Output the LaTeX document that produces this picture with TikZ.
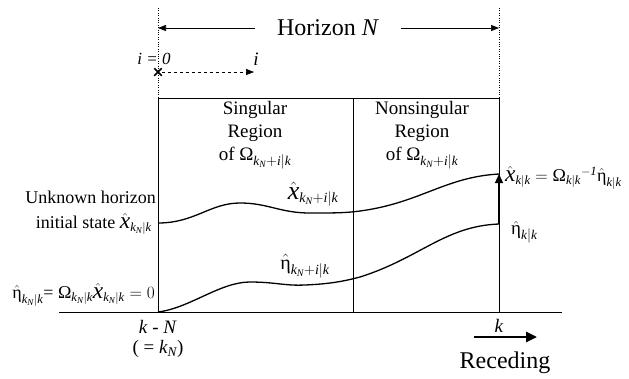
\documentclass[tikz,border=0pt]{standalone}
\usepackage{amsmath}
\usepackage{graphicx}
\usepackage{fontspec}
\setmainfont{Liberation Serif}
\usetikzlibrary{arrows.meta,positioning,shapes.misc}
\newcommand{\xhat}{\hat{\scalebox{1.3}{\textit{x}}}}
\newcommand{\etahat}{\hat{\text{η}}}
\newcommand{\Omg}{\text{Ω}}
\newcommand{\kN}{\textit{k}_{\textit{N}}}
\newcommand{\kbark}{\textit{k}|\textit{k}}
\newcommand{\kNik}{\kN+\textit{i}|\textit{k}}

\begin{document}
\begin{tikzpicture}[x=1pt,y=-1pt,
  txt/.style={inner sep=0pt,font=\fontsize{18}{19}\selectfont},
  reg/.style={inner sep=0pt,align=center,font=\fontsize{19}{23}\selectfont},
  big/.style={inner sep=0pt,font=\fontsize{24}{26}\selectfont},
  thinarr/.style={-{Triangle[length=8pt,width=6pt]},line width=0.6pt},
  trace/.style={line width=1.3pt}]
\useasboundingbox (0,0) rectangle (629,378);
% time axis and region box
\coordinate (ax0) at (59,312);
\coordinate (ax1) at (562,312);
\coordinate (kNb) at (158,312);
\coordinate (kNt) at (158,98);
\coordinate (kNd) at (158,8);
\coordinate (midb) at (353,312);
\coordinate (midt) at (353,98);
\coordinate (kb) at (499,312);
\coordinate (kt) at (499,98);
\coordinate (kd) at (499,8);
\draw[line width=0.7pt] (ax0) -- (ax1);
\draw[line width=0.6pt] (kNt) -- (kt);
\draw[line width=0.6pt] (kNt) -- (kNb);
\draw[line width=0.6pt] (midt) -- (midb);
\draw[line width=0.6pt] (kt) -- (kb);
\draw[dotted] (kNd) -- (kNt);
\draw[dotted] (kd) -- (kt);
% horizon
\node[big,inner xsep=22pt] (hor) at (328,28) {Horizon \textit{N}};
\coordinate (hl) at (158,28);
\coordinate (hr) at (499,28);
\draw[thinarr] (hor.west) -- (hl);
\draw[thinarr] (hor.east) -- (hr);
% index i
\node[inner sep=0pt,font=\fontsize{17}{19}\selectfont\itshape] (izero) at (154,59) {i = 0};
\node[draw,cross out,minimum size=6pt,inner sep=0pt,line width=1.5pt] (icross) at (158,72) {};
\coordinate (iend) at (254,72);
\draw[thinarr,dashed] (icross) -- (iend);
\node[inner sep=0pt,font=\fontsize{19}{21}\selectfont\itshape] (ilab) at (256,59) {i};
% regions
\node[reg] (sing) at (255,135) {Singular\\Region\\of $\Omg_{\kNik}$};
\node[reg] (nonsing) at (422,135) {Nonsingular\\Region\\of $\Omg_{\kNik}$};
% trajectories
\coordinate (xs) at (158,223);
\coordinate (xe) at (499,174);
\coordinate (es) at (158,312);
\coordinate (ee) at (499,224);
\draw[trace] (xs) .. controls (195,223) and (210,203) .. (240,203)
  .. controls (268,203) and (280,213) .. (310,213)
  .. controls (335,213) and (345,213) .. (360,211)
  .. controls (420,203) and (445,177) .. (xe);
\draw[trace] (es) .. controls (190,308) and (220,282) .. (250,282)
  .. controls (275,282) and (285,286) .. (305,285)
  .. controls (330,284) and (345,281) .. (360,277)
  .. controls (420,258) and (445,226) .. (ee);
\draw[trace,-{Triangle[length=9pt,width=8pt]}] (ee) -- (xe);
\node[inner sep=0pt,font=\fontsize{20}{22}\selectfont] (xlab) at (313,194) {$\xhat_{\kNik}$};
\node[inner sep=0pt,font=\fontsize{20}{22}\selectfont] (elab) at (305,266) {$\etahat_{\kNik}$};
% end point labels
\node[txt,anchor=west] (xkk) at (505,178) {$\xhat_{\kbark} = \Omg_{\kbark}{}^{-\textit{1}}\etahat_{\kbark}$};
\node[txt,anchor=west,font=\fontsize{19}{21}\selectfont] (ekk) at (511,232) {$\etahat_{\kbark}$};
\node[txt,anchor=east] (unk) at (156,197) {Unknown horizon};
\node[txt,anchor=east] (init) at (152,224) {initial state $\xhat_{\kN|\textit{k}}$};
\node[txt,anchor=east] (ezero) at (155,295) {$\etahat_{\kN|\textit{k}}$= $\Omg_{\kN|\textit{k}}\xhat_{\kN|\textit{k}} = 0$};
% time marks
\node[reg] (kmN) at (158,327) {\textit{k} - \textit{N}};
\node[reg] (kNeq) at (158,349) {( = $\kN$)};
\node[reg] (klab) at (499,326) {\textit{k}};
\coordinate (ra) at (474,337);
\coordinate (rb) at (537,337);
\draw[line width=2.6pt,-{Triangle[length=11pt,width=10pt]}] (ra) -- (rb);
\node[big] (rec) at (505,363) {Receding};
\end{tikzpicture}
\end{document}
